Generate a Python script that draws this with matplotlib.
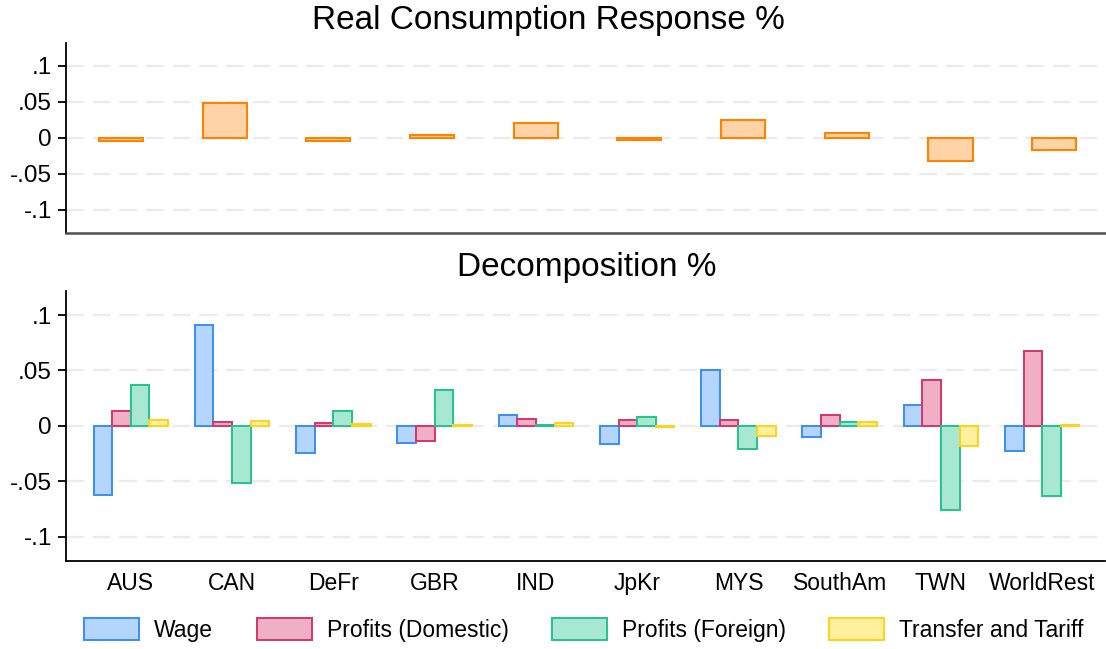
import numpy as np
import matplotlib.pyplot as plt
from matplotlib.patches import Patch

plt.rcParams['font.family'] = ['Liberation Sans', 'DejaVu Sans']

# Dados
regions = ["AUS", "CAN", "DeFr", "GBR", "IND", "JpKr", "MYS", "SouthAm", "TWN", "WorldRest"]

consumption = [-0.004, 0.0476, -0.004, 0.0038, 0.020, -0.0035, 0.0243, 0.0061, -0.032, -0.0177]

wage = [-0.0623, 0.091, -0.0246, -0.0159, 0.0102, -0.0162, 0.0506, -0.0105, 0.0192, -0.023]
profits_dom = [0.0138, 0.0039, 0.003, -0.0141, 0.0066, 0.0054, 0.0051, 0.0099, 0.0416, 0.0674]
profits_for = [0.0368, -0.0518, 0.0138, 0.0326, 0.0012, 0.0084, -0.021, 0.0036, -0.076, -0.0635]
transfer = [0.0057, 0.0048, 0.002, 0.0012, 0.0027, -0.0009, -0.0096, 0.0036, -0.018, 0.001]

series_names = ["Wage", "Profits (Domestic)", "Profits (Foreign)", "Transfer and Tariff"]

ytick_vals = [-0.1, -0.05, 0, 0.05, 0.1]
ytick_labels = ["-.1", "-.05", "0", ".05", ".1"]

# Cores
face_colors = ["#B3D5FE", "#EFAFC4", "#A8E8D3", "#FFF09E"]
edge_colors = ["#3A8DF5", "#D8336A", "#21C38C", "#FFD21A"]
cons_face = "#FED3A7"
cons_edge = "#FF8200"


def style_axis(ax, ylim):
    ax.set_ylim(-ylim, ylim)
    ax.set_yticks(ytick_vals)
    ax.set_yticklabels(ytick_labels)
    ax.tick_params(axis='y', labelsize=17.5, length=6, width=1.3, pad=4)
    ax.tick_params(axis='x', length=0)
    for y in ytick_vals:
        ax.axhline(y, color="#EBEBEB", lw=1.6, dashes=(8, 4), zorder=0)
    ax.spines['top'].set_visible(False)
    ax.spines['right'].set_visible(False)
    ax.spines['left'].set_linewidth(1.3)


def main():
    fig = plt.figure(figsize=(11.06, 6.49), dpi=100)

    x = np.arange(len(regions))

    # Painel superior
    ax1 = fig.add_axes([66 / 1106, 1 - 232.7 / 649, 1039 / 1106, 190 / 649])
    ax1.bar(x, consumption, width=0.425, color=cons_face, edgecolor=cons_edge,
            linewidth=1.5, zorder=2)
    style_axis(ax1, 0.132)
    ax1.set_xlim(-0.53, 9.49)
    ax1.set_xticks([])
    ax1.spines['bottom'].set_color("#505050")
    ax1.spines['bottom'].set_linewidth(1.8)
    fig.text(548 / 1106, 1 - 20 / 649, "Real Consumption Response %",
             ha='center', va='center', fontsize=24)

    # Painel inferior
    ax2 = fig.add_axes([66 / 1106, 1 - 561 / 649, 1039 / 1106, 270.3 / 649])
    width = 0.184
    all_series = [wage, profits_dom, profits_for, transfer]
    for i, values in enumerate(all_series):
        ax2.bar(x + (i - 1.5) * width, values, width=width,
                color=face_colors[i], edgecolor=edge_colors[i],
                linewidth=1.4, zorder=2)
    style_axis(ax2, 0.122)
    ax2.set_xlim(-0.64, 9.62)
    ax2.set_xticks(x)
    ax2.set_xticklabels(regions, fontsize=16.5)
    ax2.tick_params(axis='x', pad=8)
    ax2.spines['bottom'].set_linewidth(1.3)
    fig.text(587 / 1106, 1 - 268 / 649, "Decomposition %",
             ha='center', va='center', fontsize=24)

    # Legenda
    handles = [Patch(facecolor=face_colors[i], edgecolor=edge_colors[i], linewidth=1.4)
               for i in range(4)]
    fig.legend(handles, series_names, loc='center', ncol=4,
               bbox_to_anchor=(584 / 1106, 1 - 630 / 649), frameon=False,
               fontsize=16.5, handlelength=2.4, handleheight=1.05,
               handletextpad=0.65, columnspacing=1.9, borderaxespad=0)

    fig.savefig("out.png", dpi=100)


if __name__ == "__main__":
    main()
